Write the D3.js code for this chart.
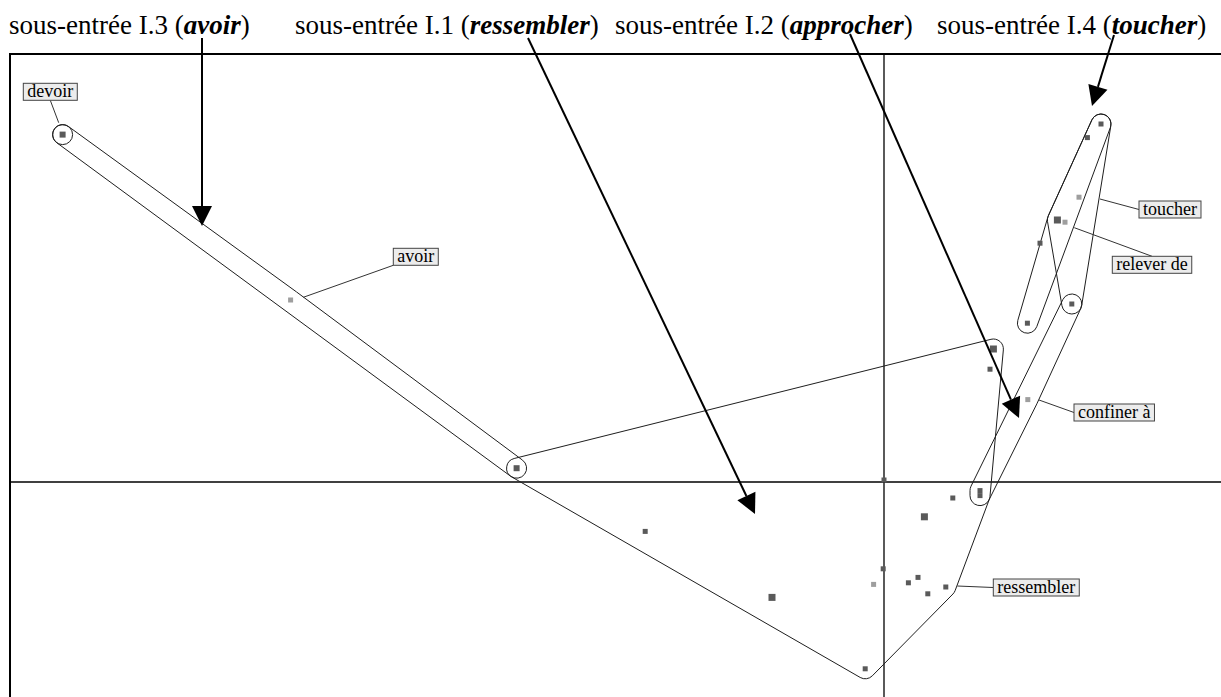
<!DOCTYPE html>
<html><head><meta charset="utf-8">
<script src="https://cdn.jsdelivr.net/npm/d3@7"></script>
<style>body{margin:0;background:#fff;overflow:hidden}</style>
</head><body>
<svg id="c" width="1221" height="697"></svg>
<script>
// ---------- DATA ----------
// factor-plane coordinates of the words (axis 1, axis 2)
const pointX = [-4.107,-2.967,-1.837, 0.000,-1.194,-0.560,-0.094,-0.004,-0.052, 0.122,
                 0.170, 0.219, 0.309, 0.202, 0.344, 0.480, 0.480, 0.547, 0.530, 0.719,
                 1.085, 1.017, 0.975, 0.867, 0.905, 0.780, 0.939, 0.717];
const pointY = [ 1.737, 0.910, 0.069, 0.010,-0.247,-0.577,-0.934,-0.434,-0.512,-0.504,
                -0.477,-0.559,-0.525,-0.174,-0.080,-0.043,-0.068, 0.665, 0.564, 0.412,
                 1.790, 1.722, 1.424, 1.310, 1.299, 1.194, 0.890, 0.794];
// weight class of each point: 1 normal, 2 medium, 3 strong, 0 faint
const pointClass = [2,0,2,1,1,3,1,1,0,1, 1,1,1,3,1,1,1,3,1,0, 1,1,0,3,0,1,1,1];
// points marked with a circle
const circled = [0];

// sub-entry zones: indices of member points
const zoneNames = ["I.3","I.1","I.2","I.4 toucher","I.4 relever de"];
const zoneMembers = [
  [0,1,2],
  [2,17,15,16,12,6],
  [26,19,15,16],
  [20,23,26],
  [20,23,27]
];

// labelled words: name, box top-left (data), leader target (data), leader side
const labelNames  = ["devoir","avoir","toucher","relever de","confiner à","ressembler"];
const labelBoxX   = [-4.3035,-2.4535, 1.275, 1.1415, 0.950, 0.5465];
const labelBoxY   = [ 1.9935, 1.1685, 1.405, 1.1285, 0.390,-0.485];
const labelTgtX   = [-4.1265,-2.9035, 1.080, 0.9515, 0.775, 0.3665];
const labelTgtY   = [ 1.7965, 0.9235, 1.415, 1.2715, 0.410,-0.520];
const labelSide   = ["bottom","bottomleft","left","top","left","left"];

// header sub-entries and their arrows (data coordinates: start, tip)
const headPre   = ["sous-entrée I.3 (","sous-entrée I.1 (","sous-entrée I.2 (","sous-entrée I.4 ("];
const headWord  = ["avoir","ressembler","approcher","toucher"];
const arrowX0 = [-3.41,-1.78,-0.17, 1.15];
const arrowY0 = [ 2.22, 2.22, 2.24, 2.235];
const arrowX1 = [-3.41,-0.645, 0.675, 1.04];
const arrowY1 = [ 1.28,-0.16, 0.32, 1.88];

// ---------- LAYOUT ----------
const W = 1221, H = 697;
const frame = {left:10, top:54, right:1221, bottom:697};
const headerX = [9, 295, 615, 937], headerBaseline = 34;
const svg = d3.select("#c");
const xS = d3.scaleLinear().domain([-4.37, 1.685]).range([frame.left, frame.right]);
const yS = d3.scaleLinear().domain([-1.075, 2.14]).range([frame.bottom, frame.top]);

// frame
svg.append("path")
  .attr("d", `M${frame.left},${H+5} L${frame.left},${frame.top} L${W+5},${frame.top}`)
  .attr("fill","none").attr("stroke","#000").attr("stroke-width",2);
// axes through origin
svg.append("line").attr("x1",frame.left).attr("x2",frame.right)
  .attr("y1",yS(0)).attr("y2",yS(0)).attr("stroke","#000").attr("stroke-width",1.3);
svg.append("line").attr("x1",xS(0)).attr("x2",xS(0))
  .attr("y1",frame.top).attr("y2",frame.bottom).attr("stroke","#000").attr("stroke-width",1.3);

// rounded hull
const R = 10;
function roundedHull(pts){
  let h = d3.polygonHull(pts) || pts.slice();
  let area = 0;
  for (let i=0;i<h.length;i++){const a=h[i],b=h[(i+1)%h.length]; area += a[0]*b[1]-b[0]*a[1];}
  if (area < 0) h = h.reverse();
  const n = h.length, normals = [];
  for (let i=0;i<n;i++){
    const a=h[i], b=h[(i+1)%n]; const dx=b[0]-a[0], dy=b[1]-a[1]; const L=Math.hypot(dx,dy);
    normals.push([dy/L, -dx/L]);
  }
  let d = "";
  for (let i=0;i<n;i++){
    const a=h[i], b=h[(i+1)%n], nm=normals[i], nn=normals[(i+1)%n];
    const s=[a[0]+nm[0]*R, a[1]+nm[1]*R], e=[b[0]+nm[0]*R, b[1]+nm[1]*R];
    if (i===0) d += `M${s[0]},${s[1]}`;
    d += `L${e[0]},${e[1]}`;
    let a0=Math.atan2(nm[1],nm[0]), a1=Math.atan2(nn[1],nn[0]);
    let delta=a1-a0; while(delta<0) delta+=2*Math.PI;
    const end=[b[0]+nn[0]*R, b[1]+nn[1]*R];
    d += `A${R},${R} 0 ${delta>Math.PI?1:0} 1 ${end[0]},${end[1]}`;
  }
  return d + "Z";
}
zoneMembers.forEach(m => {
  const pts = m.map(i => [xS(pointX[i]), yS(pointY[i])]);
  svg.append("path").attr("d", roundedHull(pts))
    .attr("fill","none").attr("stroke","#1e1e1e").attr("stroke-width",1);
});
circled.forEach(i => {
  svg.append("circle").attr("cx",xS(pointX[i])).attr("cy",yS(pointY[i])).attr("r",R)
    .attr("fill","none").attr("stroke","#1e1e1e").attr("stroke-width",1);
});

// leader lines and label boxes
const labelG = svg.append("g");
labelNames.forEach((name,i) => {
  const x0 = xS(labelBoxX[i]), y0 = yS(labelBoxY[i]);
  const g = labelG.append("g");
  const t = g.append("text").attr("x", x0+4).attr("y", y0+14)
    .attr("font-family","'Liberation Serif','Times New Roman',serif").attr("font-size",18)
    .attr("fill","#000").text(name);
  const w = t.node().getComputedTextLength() + 8, h = 17;
  let ax, ay;
  switch(labelSide[i]){
    case "bottom": ax=x0+w/2; ay=y0+h; break;
    case "bottomleft": ax=x0; ay=y0+h; break;
    case "top": ax=x0+w/2; ay=y0; break;
    default: ax=x0; ay=y0+h/2;
  }
  g.insert("line","text").attr("x1",ax).attr("y1",ay)
    .attr("x2",xS(labelTgtX[i])).attr("y2",yS(labelTgtY[i]))
    .attr("stroke","#333").attr("stroke-width",1);
  g.insert("rect","text").attr("x",x0).attr("y",y0).attr("width",w).attr("height",h)
    .attr("fill","#ececec").attr("stroke","#444").attr("stroke-width",1);
});

// points
const sizeOf = c => c===3 ? 7 : c===2 ? 6 : 5;
svg.append("g").selectAll("rect").data(pointX.map((x,i)=>i)).join("rect")
  .attr("x", i => xS(pointX[i]) - sizeOf(pointClass[i])/2)
  .attr("y", i => yS(pointY[i]) - sizeOf(pointClass[i])/2)
  .attr("width", i => sizeOf(pointClass[i])).attr("height", i => sizeOf(pointClass[i]))
  .attr("fill", i => pointClass[i]===0 ? "#9e9e9e" : "#5a5a5a");

// header texts
headPre.forEach((p,i) => {
  const t = svg.append("text").attr("x",headerX[i]).attr("y",headerBaseline)
    .attr("font-family","'Liberation Serif','Times New Roman',serif").attr("font-size",27).attr("fill","#000");
  t.append("tspan").text(p);
  t.append("tspan").attr("font-weight","bold").attr("font-style","italic").text(headWord[i]);
  t.append("tspan").text(")");
});

// arrows
const HL = 20, HW = 10;
arrowX0.forEach((_,i) => {
  const sx=xS(arrowX0[i]), sy=yS(arrowY0[i]), tx=xS(arrowX1[i]), ty=yS(arrowY1[i]);
  const dx=tx-sx, dy=ty-sy, L=Math.hypot(dx,dy), ux=dx/L, uy=dy/L;
  const bx=tx-ux*HL, by=ty-uy*HL;
  svg.append("line").attr("x1",sx).attr("y1",sy).attr("x2",bx).attr("y2",by)
    .attr("stroke","#000").attr("stroke-width",2);
  svg.append("path")
    .attr("d",`M${tx},${ty}L${bx-uy*HW},${by+ux*HW}L${bx+uy*HW},${by-ux*HW}Z`)
    .attr("fill","#000");
});
</script>
</body></html>
